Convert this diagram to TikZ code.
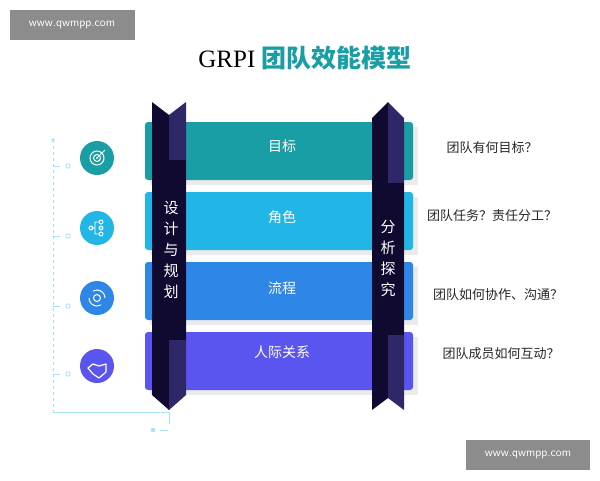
\documentclass[tikz,border=0pt]{standalone}
\usepackage{fontspec}
\newfontfamily\cjk{Noto Sans CJK SC}
\setmainfont{Liberation Serif}
\begin{document}
\begin{tikzpicture}[x=1pt,y=-1pt,
  band/.style={rounded corners=3pt,draw=none},
  lbl/.style={font=\cjk\fontsize{14}{16}\selectfont,text=white},
  qtext/.style={font=\cjk\fontsize{13}{15}\selectfont,text=black!85},
  icon/.style={circle,minimum size=34pt,inner sep=0pt},
  wm/.style={fill=black!45,text=white,font=\sffamily\fontsize{12}{14}\selectfont,minimum height=30pt,inner sep=0pt},
  guide/.style={draw=cyan!35,line width=0.9pt,dashed},
  vtext/.style={font=\cjk\fontsize{15}{21}\selectfont,text=white,align=center}]
\useasboundingbox (0,0) rectangle (600,480);
\definecolor{cT}{HTML}{1A9EA6}\definecolor{cC}{HTML}{22B6E6}
\definecolor{cB}{HTML}{2E86E6}\definecolor{cP}{HTML}{5A55EE}
\definecolor{dk}{HTML}{100A30}\definecolor{md}{HTML}{2E2868}
% watermarks
\node[wm,minimum width=125pt] (w1) at (72,25) {www.qwmpp.com};
\node[wm,minimum width=124pt] (w2) at (528,455) {www.qwmpp.com};
% title
\node (title) at (305,58) {\fontsize{25}{30}\selectfont GRPI \textcolor{cT}{\cjk\bfseries 团队效能模型}};
% guide lines
\draw[guide] (53,140) -- (53,412);
\draw[cyan!35,line width=0.9pt] (53,412) -- (169,412) -- (169,424);
\foreach \y in {158,228,298,366}{
  \draw[cyan!35,line width=0.9pt] (53,\y+8) -- (60,\y+8);
  \draw[cyan!35,line width=0.9pt] (68,\y+8) circle (2.2);}
\draw[cyan!35,fill=cyan!35] (153,430) circle (2);
\draw[cyan!35,line width=0.9pt] (160,430) -- (168,430);
\fill[cyan!35] (53,140) circle (1.8);
% bands
\fill[black!8] (150,127) rectangle (418,185);
\fill[band,cT] (145,122) rectangle (413,180);
\fill[black!8] (150,197) rectangle (418,255);
\fill[band,cC] (145,192) rectangle (413,250);
\fill[black!8] (150,267) rectangle (418,325);
\fill[band,cB] (145,262) rectangle (413,320);
\fill[black!8] (150,337) rectangle (418,395);
\fill[band,cP] (145,332) rectangle (413,390);
\node[lbl] (g1) at (282,146) {目标};
\node[lbl] (g2) at (282,217) {角色};
\node[lbl] (g3) at (282,288) {流程};
\node[lbl] (g4) at (282,352) {人际关系};
% left ribbon
\fill[dk] (152,102) -- (169,115) -- (169,410) -- (152,395) -- cycle;
\fill[md] (169,115) -- (186,102) -- (186,395) -- (169,410) -- cycle;
\fill[dk] (152,160) rectangle (186,340);
\node[vtext] (lv) at (171,250) {设\\计\\与\\规\\划};
% right ribbon
\fill[dk] (372,118) -- (388,102) -- (388,398) -- (372,410) -- cycle;
\fill[md] (388,102) -- (404,118) -- (404,410) -- (388,398) -- cycle;
\fill[dk] (372,183) rectangle (404,335);
\node[vtext] (rv) at (388,258) {分\\析\\探\\究};
% icons
\node[icon,fill=cT] (i1) at (97,158) {};
\node[icon,fill=cC] (i2) at (97,228) {};
\node[icon,fill=cB] (i3) at (97,298) {};
\node[icon,fill=cP] (i4) at (97,366) {};
\draw[white,line width=1pt] (i1) circle (7) (i1) circle (3.5);
\fill[white] (i1) circle (1.2);
\draw[white,line width=1pt] (i1.center) -- ++(8,-8);
\draw[white,line width=0.9pt] ([xshift=-6]i2.center) circle (2) -- ++(4,0) |- ++(4,-6) ++(0,6) -- ++(4,0) ([xshift=-2]i2.center) |- ++(4,6);
\draw[white,line width=0.9pt] ([xshift=4,yshift=-6]i2.center) circle (2) ([xshift=4]i2.center) circle (2) ([xshift=4,yshift=6]i2.center) circle (2);
\draw[white,line width=1pt] (i3) circle (3.5);
\draw[white,line width=1pt] ([xshift=-8]i3.center) arc (180:60:8) ([xshift=8]i3.center) arc (0:-120:8);
\draw[white,line width=1.2pt,line join=round] ([xshift=-9,yshift=-2]i4.center) -- ++(5,-4) -- ++(6,2) -- ++(7,-2) -- ++(0,8) -- ++(-7,6) -- ++(-6,-4) -- cycle;
% questions
\node[qtext] (q1) at (492,148) {团队有何目标？};
\node[qtext] (q2) at (492,216) {团队任务？责任分工？};
\node[qtext] (q3) at (498,295) {团队如何协作、沟通？};
\node[qtext] (q4) at (501,354) {团队成员如何互动？};
\end{tikzpicture}
\end{document}
